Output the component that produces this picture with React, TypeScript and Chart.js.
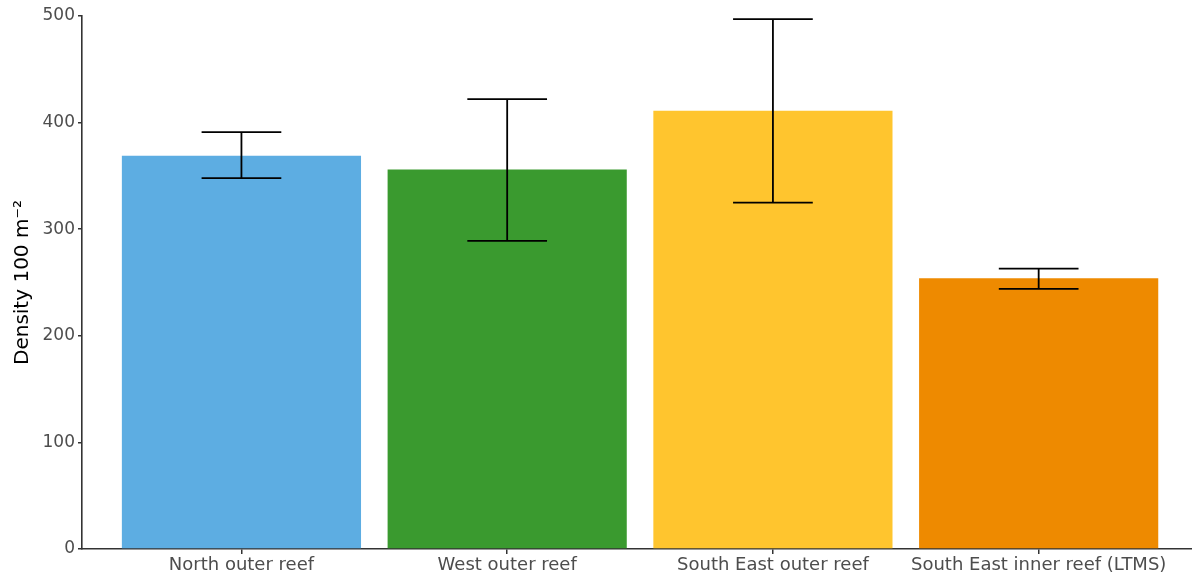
import React, { useEffect, useRef } from "react";
import { Chart, registerables } from "chart.js";
Chart.register(...registerables);

const categories = [
  "North outer reef",
  "West outer reef",
  "South East outer reef",
  "South East inner reef (LTMS)",
];
const means = [369, 356, 411, 254];
const upper = [391, 422, 497, 263];
const lower = [348, 289, 325, 244];
const colors = ["#5DADE2", "#3A9A2F", "#FFC52E", "#EE8A00"];
const yTicks = [0, 100, 200, 300, 400, 500];

const FONT = "'DejaVu Sans', 'Liberation Sans', Arial, sans-serif";

const errorBarPlugin = {
  id: "errorBars",
  afterDatasetsDraw(chart: any) {
    const { ctx, scales } = chart;
    const xs = scales.x;
    const ys = scales.y;
    const half = (xs.getPixelForValue(1.15) - xs.getPixelForValue(0.85)) / 2;
    ctx.save();
    ctx.strokeStyle = "#000000";
    ctx.lineWidth = 1.8;
    categories.forEach((_, i) => {
      const cx = xs.getPixelForValue(i + 1);
      const yHi = ys.getPixelForValue(upper[i]);
      const yLo = ys.getPixelForValue(lower[i]);
      ctx.beginPath();
      ctx.moveTo(cx, yHi);
      ctx.lineTo(cx, yLo);
      ctx.moveTo(cx - half, yHi);
      ctx.lineTo(cx + half, yHi);
      ctx.moveTo(cx - half, yLo);
      ctx.lineTo(cx + half, yLo);
      ctx.stroke();
    });
    ctx.restore();
  },
};

export default function App() {
  const ref = useRef<HTMLCanvasElement | null>(null);
  useEffect(() => {
    if (!ref.current) return;
    const chart = new Chart(ref.current, {
      type: "bar",
      data: {
        datasets: [
          {
            data: means.map((m, i) => ({ x: i + 1, y: m })),
            backgroundColor: colors,
            borderWidth: 0,
            categoryPercentage: 1,
            barPercentage: 0.9,
          } as any,
        ],
      },
      options: {
        responsive: false,
        animation: false,
        layout: { padding: { top: 16, right: 0, left: 0, bottom: 0 } },
        plugins: { legend: { display: false }, tooltip: { enabled: false } },
        scales: {
          x: {
            type: "linear",
            offset: false,
            min: 0.4,
            max: 4.577,
            afterBuildTicks: (s: any) => {
              s.ticks = [1, 2, 3, 4].map((v) => ({ value: v }));
            },
            afterFit: (s: any) => {
              s.height = 30;
            },
            ticks: {
              callback: (v: any) => categories[Math.round(v) - 1],
              color: "#4D4D4D",
              font: { family: FONT, size: 18 },
              maxRotation: 0,
              autoSkip: false,
              padding: 1,
            },
            grid: {
              display: true,
              offset: false,
              drawOnChartArea: false,
              tickLength: 5,
              color: "#333333",
              lineWidth: 1.5,
            },
            border: { display: true, color: "#333333", width: 1.6 },
          },
          y: {
            min: 0,
            max: 500,
            afterBuildTicks: (s: any) => {
              s.ticks = yTicks.map((v) => ({ value: v }));
            },
            afterFit: (s: any) => {
              s.width = 82;
            },
            ticks: {
              color: "#4D4D4D",
              font: { family: FONT, size: 17 },
              padding: 3,
            },
            grid: {
              display: true,
              drawOnChartArea: false,
              tickLength: 4,
              color: "#333333",
              lineWidth: 1.5,
            },
            border: { display: true, color: "#333333", width: 1.6 },
            title: {
              display: true,
              text: "Density 100 m⁻²",
              color: "#000000",
              font: { family: FONT, size: 20 },
              padding: { top: 11, bottom: 0 },
            },
          },
        },
      } as any,
      plugins: [errorBarPlugin],
    });
    return () => chart.destroy();
  }, []);
  return (
    <div style={{ position: "absolute", left: 0, top: 0, width: 1192, height: 579, background: "#fff" }}>
      <canvas ref={ref} width={1192} height={579} style={{ display: "block" }} />
    </div>
  );
}
